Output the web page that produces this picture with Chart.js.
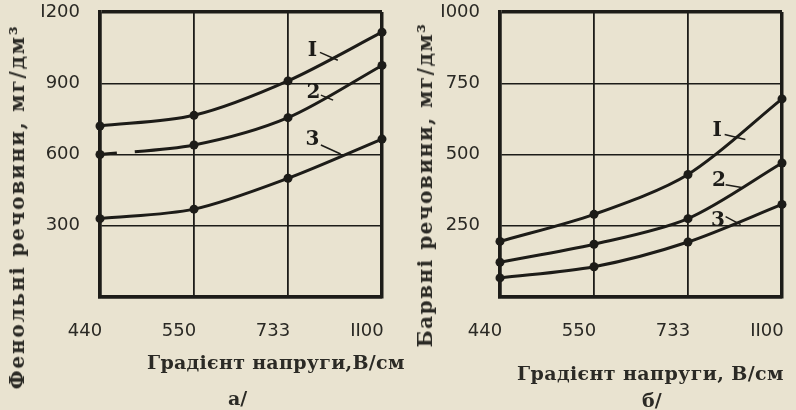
<!DOCTYPE html>
<html>
<head>
<meta charset="utf-8">
<script src="https://cdn.jsdelivr.net/npm/chart.js@4.4.1/dist/chart.umd.min.js"></script>
<style>
html,body{margin:0;padding:0;background:#e9e3d0;}
#page{position:relative;width:796px;height:410px;overflow:hidden;background:#e9e3d0;}
.box{position:absolute;top:0;height:410px;}
.t{position:absolute;font-family:"DejaVu Serif",serif;font-weight:bold;color:#2b2a25;white-space:nowrap;}
.rot{transform:translate(-50%,-50%) rotate(-90deg);font-size:20px;}
.hor{transform:translateY(-50%);font-size:19px;}
</style>
</head>
<body>
<div id="page">
  <div class="box" style="left:0;width:400px;"><canvas id="chartA" width="400" height="410"></canvas></div>
  <div class="box" style="left:400px;width:396px;"><canvas id="chartB" width="396" height="410"></canvas></div>
  <div class="t rot" style="left:17px;top:207px;letter-spacing:1.8px;">Фенольні речовини, мг/дм³</div>
  <div class="t rot" style="left:425px;top:185px;letter-spacing:1.5px;">Барвні речовини, мг/дм³</div>
  <div class="t hor" style="left:147px;top:362px;letter-spacing:0.3px;">Градієнт напруги,В/см</div>
  <div class="t hor" style="left:517px;top:373px;letter-spacing:0.4px;">Градієнт напруги, В/см</div>
  <div class="t hor" style="left:228px;top:398px;">а/</div>
  <div class="t hor" style="left:642px;top:400px;">б/</div>
</div>
<script>
// gradient of voltage, V/cm
var gradients = ['440', '550', '733', 'II00'];

// a/ phenolic substances, mg/dm3
var phenolTicks = ['', '300', '600', '900', 'I200'];
var phenol1 = [720, 765, 910, 1115];
var phenol2 = [600, 640, 755, 975];
var phenol3 = [330, 370, 500, 665];

// b/ colouring substances, mg/dm3
var colourTicks = ['', '250', '500', '750', 'I000'];
var colour1 = [195, 290, 430, 695];
var colour2 = [122, 185, 275, 470];
var colour3 = [67, 106, 193, 325];

var ink = '#1d1c18';

// curve numbers with their little leader strokes, in data space
var phenolMarks = [
    {text: 'I', at: [2.26, 1038], from: [2.34, 1030], to: [2.53, 997]},
    {text: '2', at: [2.27, 858], from: [2.35, 850], to: [2.48, 829]},
    {text: '3', at: [2.26, 661], from: [2.35, 640], to: [2.56, 602]}
];
var colourMarks = [
    {text: 'I', at: [2.31, 584], from: [2.39, 570], to: [2.61, 553]},
    {text: '2', at: [2.33, 408], from: [2.40, 394], to: [2.57, 384]},
    {text: '3', at: [2.32, 268], from: [2.40, 282], to: [2.56, 254]}
];

var curveNumbers = {
    id: 'curveNumbers',
    afterDatasetsDraw: function (chart, args, opts) {
        var ctx = chart.ctx;
        var xs = chart.scales.x, ys = chart.scales.y;
        ctx.save();
        ctx.fillStyle = ink;
        ctx.strokeStyle = ink;
        ctx.lineWidth = 1.5;
        ctx.font = 'bold 20px "DejaVu Serif"';
        ctx.textAlign = 'center';
        ctx.textBaseline = 'middle';
        for (var i = 0; i < opts.marks.length; i++) {
            var m = opts.marks[i];
            ctx.fillText(m.text, xs.getPixelForValue(m.at[0]), ys.getPixelForValue(m.at[1]));
            ctx.beginPath();
            ctx.moveTo(xs.getPixelForValue(m.from[0]), ys.getPixelForValue(m.from[1]));
            ctx.lineTo(xs.getPixelForValue(m.to[0]), ys.getPixelForValue(m.to[1]));
            ctx.stroke();
        }
        ctx.restore();
    }
};

function series(values, gapFirst) {
    return {
        data: values,
        borderColor: ink,
        borderWidth: 3,
        pointRadius: 4.5,
        pointBorderWidth: 0,
        pointBackgroundColor: ink,
        tension: 0.3,
        clip: false,
        segment: {
            borderDash: function (c) {
                return gapFirst && c.p0DataIndex === 0 ? [17, 18, 1000] : undefined;
            }
        }
    };
}

function makeChart(id, sets, max, step, tickLabels, marks, right) {
    var ctx = document.getElementById(id).getContext('2d');
    return new Chart(ctx, {
        type: 'line',
        data: {labels: gradients, datasets: sets},
        plugins: [curveNumbers],
        options: {
            responsive: false,
            animation: false,
            devicePixelRatio: 1,
            layout: {padding: {top: 12, right: right, left: 0, bottom: 0}},
            plugins: {legend: {display: false}, tooltip: {enabled: false}, curveNumbers: {marks: marks}},
            scales: {
                x: {
                    offset: false,
                    grid: {
                        color: ink,
                        drawTicks: false,
                        lineWidth: function (c) { return (c.index === 0 || c.index === 3) ? 3.5 : 1.8; }
                    },
                    border: {display: true, color: ink, width: 3.5},
                    ticks: {
                        color: '#2a2924',
                        padding: 24,
                        labelOffset: -15,
                        maxRotation: 0,
                        font: {family: '"DejaVu Sans"', size: 18}
                    },
                    afterFit: function (scale) {
                        scale.height = 113;
                        scale.paddingLeft = 0;
                        scale.paddingRight = 0;
                    }
                },
                y: {
                    min: 0,
                    max: max,
                    grid: {
                        color: ink,
                        drawTicks: false,
                        lineWidth: function (c) { return (c.index === 0 || c.index === 4) ? 3.5 : 1.4; }
                    },
                    border: {display: true, color: ink, width: 3.5},
                    ticks: {
                        stepSize: step,
                        color: '#2a2924',
                        padding: 20,
                        font: {family: '"DejaVu Sans"', size: 18},
                        callback: function (v, i) { return tickLabels[i]; }
                    },
                    afterFit: function (scale) {
                        scale.width = 100;
                        scale.paddingTop = 0;
                        scale.paddingBottom = 0;
                    }
                }
            }
        }
    });
}

makeChart('chartA', [series(phenol1), series(phenol2, true), series(phenol3)], 1200, 300, phenolTicks, phenolMarks, 18);
makeChart('chartB', [series(colour1), series(colour2), series(colour3)], 1000, 250, colourTicks, colourMarks, 14);
</script>
</body>
</html>
